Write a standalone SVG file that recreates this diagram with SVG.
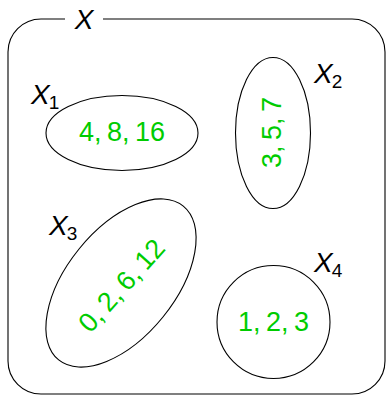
<svg xmlns="http://www.w3.org/2000/svg" width="386" height="397" viewBox="0 0 386 397">
<style>
.sh{fill:none;stroke:#000;stroke-width:1.1}
.lbl{font-family:"Liberation Sans",Arial,sans-serif;font-size:28px;fill:#000}
.it{font-style:italic}
.sub{font-size:19px;font-style:normal}
.val{font-family:"Liberation Sans",Arial,sans-serif;font-size:27px;fill:#00cc00;text-anchor:middle;word-spacing:-2px}
</style>
<rect width="386" height="397" fill="#fff"/>
<g id="X">
<path class="sh" d="M65,19 H41 A33,33 0 0 0 8,52 V361 A33,33 0 0 0 41,394 H352 A33,33 0 0 0 385,361 V52 A33,33 0 0 0 352,19 H103"/>
<text class="lbl it" x="84" y="29" text-anchor="middle" font-size="29">X</text>
</g>
<g id="X1">
<ellipse class="sh" cx="122" cy="133" rx="76" ry="37.5"/>
<text class="lbl" x="31" y="104"><tspan class="it">X</tspan><tspan class="sub" dx="-1" dy="5">1</tspan></text>
<text class="val" x="122" y="140.5">4, 8, 16</text>
</g>
<g id="X2">
<ellipse class="sh" cx="273" cy="133" rx="37.5" ry="75.5"/>
<text class="lbl" x="314" y="83"><tspan class="it">X</tspan><tspan class="sub" dx="-1" dy="5">2</tspan></text>
<text class="val" transform="translate(281,132.5) rotate(-90)" x="0" y="0">3, 5, 7</text>
</g>
<g id="X3">
<ellipse class="sh" cx="121" cy="283" rx="99" ry="54" transform="rotate(-51 121 283)"/>
<text class="lbl" x="49" y="235"><tspan class="it">X</tspan><tspan class="sub" dx="-1" dy="5">3</tspan></text>
<text class="val" transform="translate(121,285) rotate(-48)" x="0" y="10">0, 2, 6, 12</text>
</g>
<g id="X4">
<circle class="sh" cx="273.5" cy="322" r="56.5"/>
<text class="lbl" x="314" y="272"><tspan class="it">X</tspan><tspan class="sub" dx="-1" dy="5">4</tspan></text>
<text class="val" x="273.5" y="330.5">1, 2, 3</text>
</g>
<g id="connectors"></g>
</svg>
